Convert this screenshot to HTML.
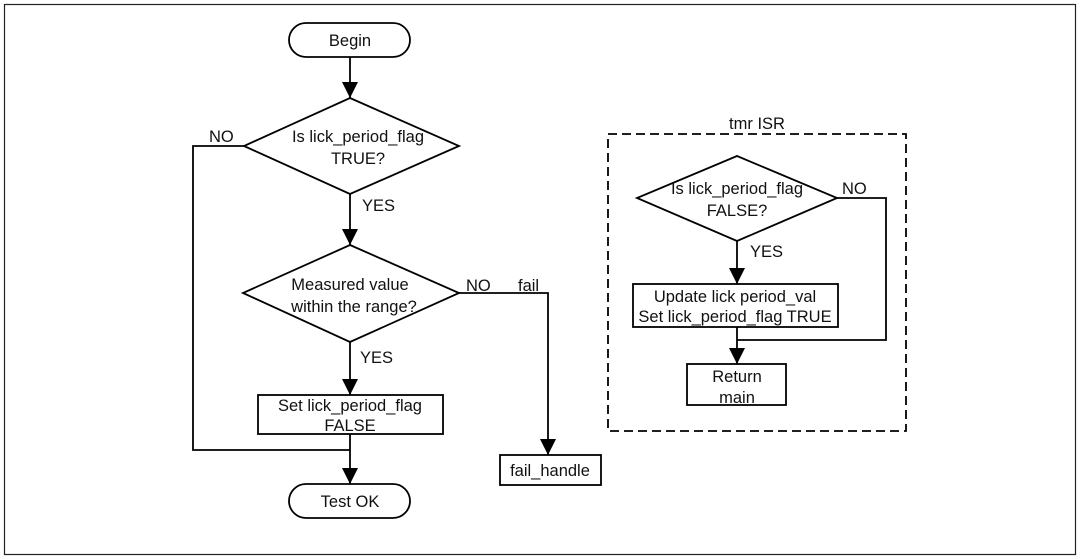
<!DOCTYPE html>
<html><head><style>
html,body{margin:0;padding:0;background:#fff;}
svg{display:block;}
text{font-family:"Liberation Sans",sans-serif;font-size:16.5px;fill:#111;}
</style></head><body>
<svg width="1080" height="559" viewBox="0 0 1080 559" xmlns="http://www.w3.org/2000/svg">
<rect x="4.5" y="4.5" width="1071" height="550" fill="none" stroke="#222" stroke-width="1.2"/>
<g fill="none" stroke="#000" stroke-width="1.8">
<rect x="289" y="23" width="121" height="34" rx="17"/>
<polygon points="350,98 459,146 350,194 244,146" fill="#fff"/>
<polygon points="350,245 459,293 350,342 243,293" fill="#fff"/>
<rect x="258" y="395" width="185" height="39"/>
<rect x="289" y="484" width="121" height="34" rx="17"/>
<rect x="500" y="455" width="101" height="30"/>
<path d="M350,57 V98 M350,194 V245 M350,342 V395 M350,434 V484"/>
<path d="M244,146 H193 V450 H350"/>
<path d="M459,293 H548 V455"/>
<rect x="608" y="134" width="298" height="297" stroke-dasharray="9,5"/>
<polygon points="737,156 837,198 737,241 637,198" fill="#fff"/>
<rect x="633" y="284" width="205" height="43"/>
<rect x="687" y="364" width="99" height="41"/>
<path d="M737,241 V284 M737,327 V364 M837,198 H886 V340 H737"/>
</g>
<g fill="#000">
<path d="M342,82 L358,82 L350,98 Z"/>
<path d="M342,229 L358,229 L350,245 Z"/>
<path d="M342,379 L358,379 L350,395 Z"/>
<path d="M342,468 L358,468 L350,484 Z"/>
<path d="M540,439 L556,439 L548,455 Z"/>
<path d="M729,268 L745,268 L737,284 Z"/>
<path d="M729,348 L745,348 L737,364 Z"/>
</g>
<g text-anchor="middle">
<text x="350" y="46">Begin</text>
<text x="358" y="142">Is lick_period_flag</text>
<text x="358" y="164">TRUE?</text>
<text x="350" y="290">Measured value</text>
<text x="354" y="312">within the range?</text>
<text x="350" y="411">Set lick_period_flag</text>
<text x="350" y="431">FALSE</text>
<text x="350" y="507">Test OK</text>
<text x="550" y="476">fail_handle</text>
<text x="757" y="129">tmr ISR</text>
<text x="737" y="194">Is lick_period_flag</text>
<text x="737" y="216">FALSE?</text>
<text x="735" y="302">Update lick period_val</text>
<text x="735" y="322">Set lick_period_flag TRUE</text>
<text x="737" y="382">Return</text>
<text x="737" y="403">main</text>
</g>
<text x="209" y="142">NO</text>
<text x="362" y="211">YES</text>
<text x="466" y="291">NO</text>
<text x="518" y="291">fail</text>
<text x="360" y="363">YES</text>
<text x="842" y="194">NO</text>
<text x="750" y="257">YES</text>
</svg>
</body></html>
